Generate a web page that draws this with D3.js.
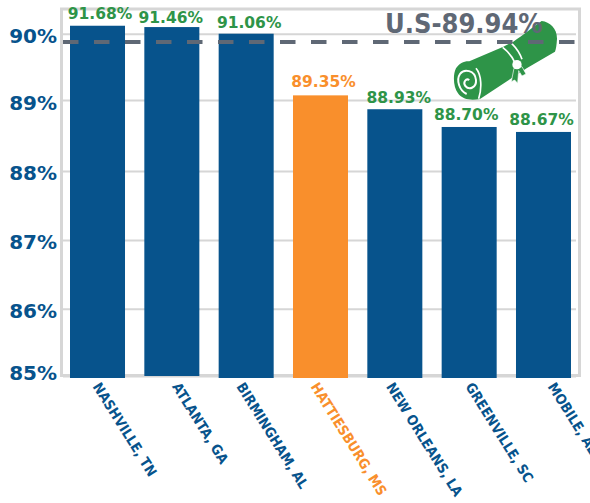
<!DOCTYPE html>
<html>
<head>
<meta charset="utf-8">
<script src="https://cdn.jsdelivr.net/npm/d3@7"></script>
<style>
  html, body { margin: 0; padding: 0; background: #fff; overflow: hidden; }
  svg { display: block; font-family: "DejaVu Sans", sans-serif; font-weight: bold; }
</style>
</head>
<body>
<svg width="590" height="503"></svg>
<script>
// chart data
var cities = ["NASHVILLE, TN", "ATLANTA, GA", "BIRMINGHAM, AL", "HATTIESBURG, MS", "NEW ORLEANS, LA", "GREENVILLE, SC", "MOBILE, AL"];
// the bar heights do not follow the printed numbers in the original, so both are kept
var barValues = [90.12, 90.1, 90.0, 89.07, 88.87, 88.62, 88.55];
var barLabels = ["91.68%", "91.46%", "91.06%", "89.35%", "88.93%", "88.70%", "88.67%"];
var yTicks = [85, 86, 87, 88, 89, 90];
var usLineValue = 89.875;
var usLabel = "U.S-89.94%";
var highlightCity = "HATTIESBURG, MS";

var blue = "#07538c", orange = "#f98f2c", green = "#2e9448", grey = "#5f6875", gridGrey = "#d6d6d6";

var svg = d3.select("svg");

// gridlines in the source are not evenly spaced, so the scale goes through each of them
var yScale = d3.scaleLinear().domain(yTicks).range([376, 308.7, 240, 171, 100, 33.7]);
var xScale = d3.scaleBand().domain(cities).range([70, 571]).paddingInner(0.26).paddingOuter(0);

// gridlines
var grid = svg.append("g")
  .attr("transform", "translate(63,0)")
  .call(d3.axisRight(yScale).tickValues(yTicks).tickSize(513).tickFormat(""));
grid.select(".domain").remove();
grid.selectAll("line").attr("stroke", gridGrey).attr("stroke-width", 2);

// frame
svg.append("rect")
  .attr("x", 61.5)
  .attr("y", 9)
  .attr("width", 518)
  .attr("height", 366.5)
  .attr("fill", "none")
  .attr("stroke", gridGrey)
  .attr("stroke-width", 3);

// bars
svg.selectAll(".bar")
  .data(barValues)
  .enter()
  .append("rect")
  .attr("class", "bar")
  .attr("x", function(d, i) { return xScale(cities[i]); })
  .attr("y", function(d) { return yScale(d); })
  .attr("width", xScale.bandwidth())
  .attr("height", function(d, i) { return yScale(85) + (i == 1 ? 0 : 2) - yScale(d); })
  .attr("fill", function(d, i) { return cities[i] == highlightCity ? orange : blue; });

// diploma icon
var icon = svg.append("g").attr("transform", "translate(370,0) scale(0.3333)");
icon.append("path")
  .attr("fill", green)
  .attr("d", "M298,184 L400,140 L430,125 C460,105 490,80 515,63 C540,66 562,85 561,118 C560,135 558,148 555,155 L470,205 L330,297 C305,302 278,300 264,280 C250,262 248,225 258,205 C268,190 282,183 298,184 Z");
icon.append("path")
  .attr("fill", "none")
  .attr("stroke", "#fff")
  .attr("stroke-width", 6)
  .attr("d", "M290,282 C268,272 258,240 270,222 C282,205 315,210 318,240 C320,262 298,272 286,258 C278,246 288,234 298,240");
icon.append("path")
  .attr("fill", "none")
  .attr("stroke", "#fff")
  .attr("stroke-width", 5)
  .attr("d", "M326,296 C336,265 335,225 318,205 M398,142 C415,155 428,172 436,190 M425,130 C440,145 450,160 456,178");
icon.append("path")
  .attr("fill", green)
  .attr("stroke", "#fff")
  .attr("stroke-width", 2)
  .attr("d", "M432,205 L424,245 L434,240 L443,250 L446,212 L456,228 L468,222 L456,200 Z");
icon.append("circle")
  .attr("cx", 441)
  .attr("cy", 194)
  .attr("r", 14)
  .attr("fill", "#fff");

// national average
svg.append("text")
  .attr("x", 385)
  .attr("y", 33)
  .attr("font-size", 27)
  .attr("font-family", "DejaVu Sans Condensed, DejaVu Sans")
  .attr("font-stretch", "condensed")
  .attr("fill", grey)
  .text(usLabel);

svg.append("line")
  .attr("x1", 63)
  .attr("x2", 576)
  .attr("y1", yScale(usLineValue))
  .attr("y2", yScale(usLineValue))
  .attr("stroke", grey)
  .attr("stroke-width", 4)
  .attr("stroke-dasharray", "15.5 15.5");

// y axis text
var yAxis = svg.append("g")
  .attr("transform", "translate(57,0)")
  .call(d3.axisLeft(yScale).tickValues(yTicks).tickSize(0).tickPadding(0).tickFormat(function(d) { return d + "%"; }));
yAxis.select(".domain").remove();
yAxis.selectAll("text")
  .attr("font-size", 20)
  .attr("font-family", "DejaVu Sans")
  .attr("font-weight", "bold")
  .attr("fill", blue)
  .attr("dy", function(d) { return d == 85 ? "0.15em" : d == 89 ? "0.47em" : "0.42em"; });

// text above each bar
var labelNudgeX = [2.5, -1, 3, 3, 4, -3, -2];
var labelNudgeY = [-7, -4, -6, -8, -6, -7, -7];
svg.selectAll("text.value")
  .data(barValues)
  .enter()
  .append("text")
  .attr("class", "value")
  .attr("text-anchor", "middle")
  .attr("font-size", 15.5)
  .attr("fill", function(d, i) { return cities[i] == highlightCity ? orange : green; })
  .attr("x", function(d, i) { return xScale(cities[i]) + xScale.bandwidth() / 2 + labelNudgeX[i]; })
  .attr("y", function(d, i) { return yScale(d) + labelNudgeY[i]; })
  .text(function(d, i) { return barLabels[i]; });

// x axis text, rotated
var cityNudge = [-1, 4, -6, -6, -5, 0, 8];
var xAxis = svg.append("g")
  .attr("transform", "translate(0,384)")
  .call(d3.axisBottom(xScale).tickSize(0).tickPadding(0));
xAxis.select(".domain").remove();
xAxis.selectAll("text")
  .attr("font-size", 14)
  .attr("font-family", "DejaVu Sans Condensed, DejaVu Sans")
  .attr("font-stretch", "condensed")
  .attr("font-weight", "bold")
  .attr("text-anchor", "start")
  .attr("y", 0)
  .attr("dy", "0.35em")
  .attr("transform", function(d, i) { return "translate(" + cityNudge[i] + ",0) rotate(58)"; })
  .attr("fill", function(d) { return d == highlightCity ? orange : blue; });
</script>
</body>
</html>
